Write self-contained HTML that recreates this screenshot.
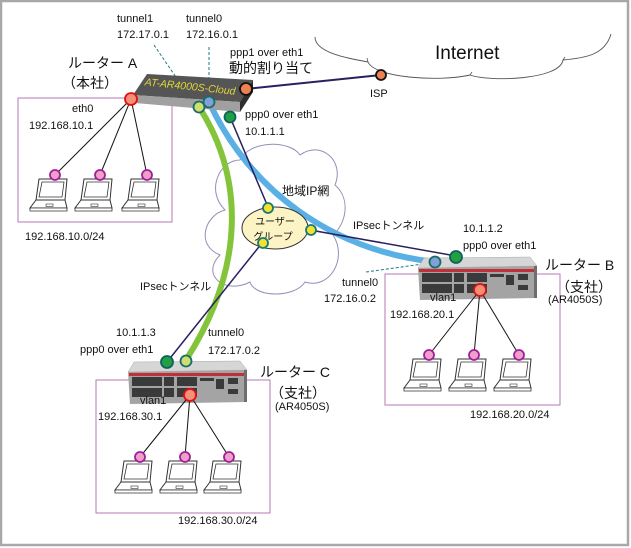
<!DOCTYPE html>
<html><head><meta charset="utf-8"><style>
html,body{margin:0;padding:0;background:#fff}
svg{display:block}
text{font-family:"Liberation Sans","Noto Sans CJK JP",sans-serif;fill:#111}
</style></head><body>
<svg width="631" height="548" viewBox="0 0 631 548" xmlns="http://www.w3.org/2000/svg">
<defs>
<g id="lap">
  <path d="M-16,4 L12,4 L10,25 L-19,25 Z" fill="#fff" stroke="#333" stroke-width="1"/>
  <path d="M-13,7 L9,7 L7,22 L-16,22 Z" fill="none" stroke="#333" stroke-width="0.8"/>
  <path d="M-19,25 L10,25 L12,33 L-25,33 Z" fill="#fff" stroke="#333" stroke-width="1"/>
  <path d="M-25,33 L12,33 L12,36 L-25,36 Z" fill="#fff" stroke="#333" stroke-width="0.8"/>
  <rect x="-9" y="29" width="7" height="2.5" fill="none" stroke="#333" stroke-width="0.6"/>
</g>
<g id="rtr">
  <polygon points="6,0 112,-1 119,8 0,10" fill="#d6d6d6" stroke="#aaa" stroke-width="0.5"/>
  <polygon points="0,10 119,8 118,40 2,42" fill="#a4a4a4"/>
  <rect x="1" y="11" width="117" height="3" fill="#c0303a"/>
  <g fill="#3a3a3a">
    <rect x="4" y="15" width="30" height="9"/><rect x="4" y="26" width="30" height="9"/>
    <rect x="36" y="15" width="10" height="9"/><rect x="36" y="26" width="10" height="9"/>
    <rect x="49" y="15" width="20" height="9"/><rect x="49" y="26" width="20" height="9"/>
    <rect x="72" y="16" width="14" height="3"/><rect x="88" y="17" width="8" height="10"/>
    <rect x="100" y="16" width="10" height="6"/><rect x="100" y="27" width="10" height="5"/>
  </g>
  <rect x="116" y="8" width="3" height="32" fill="#6e6e6e"/>
</g>
</defs>

<rect x="1" y="1" width="627" height="544" fill="#fff" stroke="#a8a8a8" stroke-width="2.5"/>

<path d="M315,37 C315,55 360,60 368,62 C375,78 440,82 470,75 C490,82 560,80 563,60 C585,58 605,55 611,34" fill="none" stroke="#555" stroke-width="0.9"/>
<path d="M368,62 L367,58 M470,75 L472,72 M563,60 L565,57" fill="none" stroke="#555" stroke-width="0.8"/>
<text x="435" y="59" font-size="19">Internet</text>

<path d="M240,160 C250,140 290,140 300,155 C320,140 345,160 335,185 C352,200 345,225 333,235 C348,258 330,290 305,282 C295,298 255,298 250,282 C225,295 200,275 220,255 C195,245 205,215 225,210 C205,190 220,160 240,160 Z" fill="#fff" stroke="#9090b8" stroke-width="1"/>
<text x="282" y="195" font-size="12">地域IP網</text>

<rect x="18" y="98" width="154" height="124" fill="none" stroke="#b67ab6" stroke-width="1"/>
<rect x="385" y="274" width="175" height="131" fill="none" stroke="#b67ab6" stroke-width="1"/>
<rect x="96" y="380" width="174" height="133" fill="none" stroke="#b67ab6" stroke-width="1"/>

<line x1="246" y1="89" x2="381" y2="75" stroke="#2a2060" stroke-width="2"/>
<path d="M199,107 C240,170 250,260 186,360" fill="none" stroke="#84c43a" stroke-width="6"/>
<path d="M209,102 C250,190 330,250 435,262" fill="none" stroke="#5ab0e4" stroke-width="6"/>
<line x1="230" y1="117" x2="268" y2="207" stroke="#2a2060" stroke-width="1.5"/>
<line x1="310" y1="230" x2="456" y2="256" stroke="#2a2060" stroke-width="1.5"/>
<line x1="262" y1="243" x2="167" y2="362" stroke="#2a2060" stroke-width="1.5"/>
<line x1="154" y1="45" x2="193" y2="102" stroke="#1a7a80" stroke-width="1" stroke-dasharray="3,2"/>
<line x1="209" y1="47" x2="209" y2="98" stroke="#1a7a80" stroke-width="1" stroke-dasharray="3,2"/>
<line x1="366" y1="272" x2="430" y2="263" stroke="#1a7a80" stroke-width="1" stroke-dasharray="3,2"/>

<ellipse cx="275" cy="228" rx="33" ry="21" fill="#fcf4c4" stroke="#333" stroke-width="1"/>
<text x="275" y="225" font-size="10" text-anchor="middle">ユーザー</text>
<text x="273" y="240" font-size="10" text-anchor="middle">グループ</text>
<g fill="#f4e030" stroke="#157a78" stroke-width="1.8">
<circle cx="268" cy="208" r="5"/><circle cx="311" cy="230" r="5"/><circle cx="263" cy="243" r="5"/>
</g>

<polygon points="147,74 253,80 240,102 133,95" fill="#555"/>
<polygon points="133,95 240,102 240,112 135,103" fill="#a0a0a0"/>
<polygon points="240,102 253,80 253,92 240,112" fill="#2e2e2e"/>
<text x="190" y="90" font-size="10.5" font-style="italic" style="fill:#e0d838" text-anchor="middle" transform="rotate(6 190 88)">AT-AR4000S-Cloud</text>

<g stroke="#111" stroke-width="1">
<line x1="131" y1="99" x2="55" y2="175"/><line x1="131" y1="99" x2="100" y2="175"/><line x1="131" y1="99" x2="147" y2="175"/>
</g>
<use href="#lap" x="55" y="175"/><use href="#lap" x="100" y="175"/><use href="#lap" x="147" y="175"/>

<use href="#rtr" x="418" y="258"/>
<g stroke="#111" stroke-width="1">
<line x1="480" y1="290" x2="429" y2="355"/><line x1="480" y1="290" x2="474" y2="355"/><line x1="480" y1="290" x2="519" y2="355"/>
</g>
<use href="#lap" x="429" y="355"/><use href="#lap" x="474" y="355"/><use href="#lap" x="519" y="355"/>

<use href="#rtr" x="128" y="362"/>
<g stroke="#111" stroke-width="1">
<line x1="190" y1="395" x2="140" y2="457"/><line x1="190" y1="395" x2="185" y2="457"/><line x1="190" y1="395" x2="229" y2="457"/>
</g>
<use href="#lap" x="140" y="457"/><use href="#lap" x="185" y="457"/><use href="#lap" x="229" y="457"/>

<g stroke-width="1.8">
<circle cx="131" cy="99" r="6" fill="#f4907a" stroke="#e01010"/>
<circle cx="199" cy="107" r="5.5" fill="#cce070" stroke="#1a6a6a"/>
<circle cx="209" cy="102" r="5.5" fill="#80a0d8" stroke="#1a6a6a"/>
<circle cx="230" cy="117" r="5.5" fill="#20a040" stroke="#106060"/>
<circle cx="246" cy="89" r="6" fill="#f08050" stroke="#111"/>
<circle cx="381" cy="75" r="5" fill="#f08050" stroke="#111"/>
<circle cx="435" cy="262" r="5.5" fill="#80a0d8" stroke="#1a6a6a"/>
<circle cx="456" cy="257" r="6" fill="#20a040" stroke="#106060"/>
<circle cx="480" cy="290" r="6" fill="#f4907a" stroke="#e01010"/>
<circle cx="167" cy="362" r="6" fill="#20a040" stroke="#106060"/>
<circle cx="186" cy="361" r="5.5" fill="#cce070" stroke="#1a6a6a"/>
<circle cx="190" cy="395" r="6" fill="#f4907a" stroke="#e01010"/>
</g>
<g fill="#f0a0c8" stroke="#a0209a" stroke-width="1.8">
<circle cx="55" cy="175" r="5"/><circle cx="100" cy="175" r="5"/><circle cx="147" cy="175" r="5"/>
<circle cx="429" cy="355" r="5"/><circle cx="474" cy="355" r="5"/><circle cx="519" cy="355" r="5"/>
<circle cx="140" cy="457" r="5"/><circle cx="185" cy="457" r="5"/><circle cx="229" cy="457" r="5"/>
</g>

<g font-size="11">
<text x="117" y="22">tunnel1</text><text x="117" y="38">172.17.0.1</text>
<text x="186" y="22">tunnel0</text><text x="186" y="38">172.16.0.1</text>
<text x="230" y="56">ppp1 over eth1</text>
<text x="245" y="118">ppp0 over eth1</text><text x="245" y="135">10.1.1.1</text>
<text x="72" y="112">eth0</text><text x="29" y="129">192.168.10.1</text>
<text x="25" y="240">192.168.10.0/24</text>
<text x="353" y="229">IPsecトンネル</text>
<text x="370" y="97">ISP</text>
<text x="463" y="232">10.1.1.2</text><text x="463" y="249">ppp0 over eth1</text>
<text x="342" y="286">tunnel0</text><text x="324" y="302">172.16.0.2</text>
<text x="430" y="301">vlan1</text><text x="390" y="318">192.168.20.1</text>
<text x="548" y="303">(AR4050S)</text>
<text x="470" y="418">192.168.20.0/24</text>
<text x="140" y="290">IPsecトンネル</text>
<text x="116" y="336">10.1.1.3</text><text x="80" y="353">ppp0 over eth1</text>
<text x="208" y="336">tunnel0</text><text x="208" y="354">172.17.0.2</text>
<text x="140" y="404">vlan1</text><text x="98" y="420">192.168.30.1</text>
<text x="275" y="410">(AR4050S)</text>
<text x="178" y="524">192.168.30.0/24</text>
</g>
<g font-size="14">
<text x="229" y="73">動的割り当て</text>
<text x="68" y="68">ルーター A</text><text x="62" y="88">（本社）</text>
<text x="545" y="270">ルーター B</text><text x="556" y="292">（支社）</text>
<text x="260" y="377">ルーター C</text><text x="270" y="398">（支社）</text>
</g>
</svg>
</body></html>
